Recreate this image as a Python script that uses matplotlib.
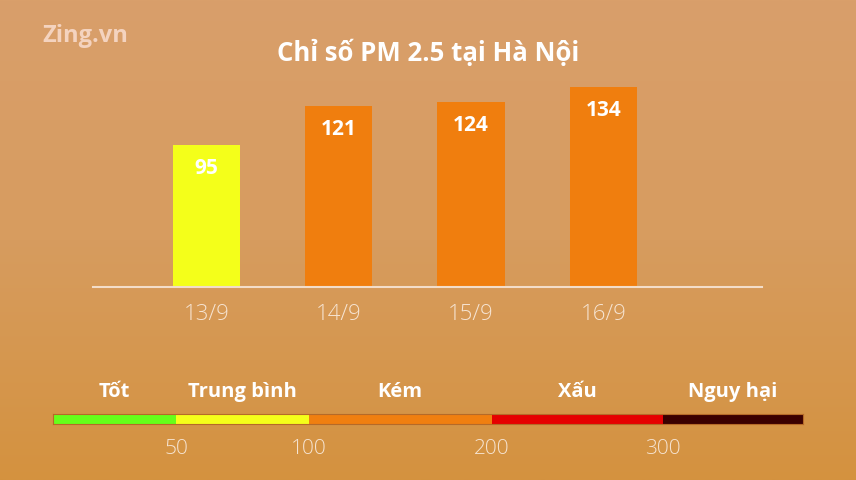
import numpy as np
import matplotlib

matplotlib.use("Agg")
import matplotlib.pyplot as plt
from matplotlib.colors import LinearSegmentedColormap

# --- data -------------------------------------------------------------------
days = ["13/9", "14/9", "15/9", "16/9"]
pm25 = [95, 121, 124, 134]
bar_colors = ["#F4FF1A", "#F07E0E", "#F07E0E", "#F07E0E"]

band_names = ["Tốt", "Trung bình", "Kém", "Xấu", "Nguy hại"]
band_edges = [0, 50, 100, 200, 300, 400]
band_colors = ["#66FF1A", "#F5FF1A", "#F07F10", "#E60000", "#3A0000"]
band_ticks = [50, 100, 200, 300]

FONT = ["Open Sans", "DejaVu Sans"]
W, H = 856, 480

fig = plt.figure(figsize=(W / 100, H / 100), dpi=100)

# background gradient (lighter on top, deeper orange at the bottom)
bg = fig.add_axes([0, 0, 1, 1])
cmap = LinearSegmentedColormap.from_list("bg", ["#D99F6B", "#D79C5F", "#D4923F"])
bg.imshow(np.linspace(0, 1, 256)[:, None], aspect="auto", cmap=cmap,
          extent=[0, 1, 0, 1], origin="upper")
bg.set_axis_off()


def box(x0, y0, x1, y1):
    # pixel box (top-left origin) -> figure fraction rect
    return [x0 / W, 1 - y1 / H, (x1 - x0) / W, (y1 - y0) / H]


# --- main bar chart ---------------------------------------------------------
ax = fig.add_axes(box(93, 60, 762, 287))
ax.patch.set_alpha(0)
x = np.arange(len(days))
bars = ax.bar(x, pm25, width=0.51, color=bar_colors)
ax.set_xlim(-0.858, 4.2)
ax.set_ylim(0, 152)
for rect, v in zip(bars, pm25):
    ax.annotate(str(v), (rect.get_x() + rect.get_width() / 2, v),
                xytext=(0, -17), textcoords="offset points",
                ha="center", va="center", color="white", fontsize=15,
                fontweight="bold", family=FONT)
ax.set_xticks(x, days)
ax.tick_params(axis="x", length=0, pad=12, labelsize=16, labelcolor="#F6E4D2")
for lab in ax.get_xticklabels():
    lab.set_family(FONT)
    lab.set_fontweight("light")
ax.set_yticks([])
for side in ["top", "left", "right"]:
    ax.spines[side].set_visible(False)
ax.spines["bottom"].set_color("#F3DDC9")
ax.spines["bottom"].set_linewidth(1.5)

# --- PM2.5 colour scale -----------------------------------------------------
# piecewise scale so each band gets the width it has in the graphic
knots_v = band_edges
knots_p = [0, 0.164, 0.341, 0.585, 0.813, 1.0]


def fwd(v):
    return np.interp(v, knots_v, knots_p)


def inv(p):
    return np.interp(p, knots_p, knots_v)


sx = fig.add_axes(box(53, 414, 803, 424))
sx.set_xscale("function", functions=(fwd, inv))
for lo, hi, c in zip(band_edges[:-1], band_edges[1:], band_colors):
    sx.axvspan(lo, hi, color=c, lw=0)
sx.set_xlim(band_edges[0], band_edges[-1])
sx.set_ylim(0, 1)
sx.set_yticks([])
for s in sx.spines.values():
    s.set_color("#B56A28")
    s.set_linewidth(0.8)
sx.set_xticks(band_ticks, [str(t) for t in band_ticks])
sx.minorticks_off()
sx.tick_params(axis="x", length=0, pad=11, labelsize=15, labelcolor="#F6E4D2")
for lab in sx.get_xticklabels():
    lab.set_family(FONT)
    lab.set_fontweight("light")

for lo, hi, name in zip(band_edges[:-1], band_edges[1:], band_names):
    mid = inv((fwd(lo) + fwd(hi)) / 2)
    sx.annotate(name, (mid, 1), xycoords=("data", "axes fraction"),
                xytext=(0, 16), textcoords="offset points",
                ha="center", va="center", color="white", fontsize=14.5,
                fontweight="bold", family=FONT)

# --- titles -----------------------------------------------------------------
fig.text(0.5, 1 - 53 / H, "Chỉ số PM 2.5 tại Hà Nội", ha="center", va="center",
         color="white", fontsize=18.5, fontweight="bold", family=FONT)
fig.text(42 / W, 1 - 36 / H, "Zing.vn", ha="left", va="center",
         color="#F4D3BF", fontsize=17, fontweight="bold", family=FONT)

fig.savefig("out.png", dpi=100)
